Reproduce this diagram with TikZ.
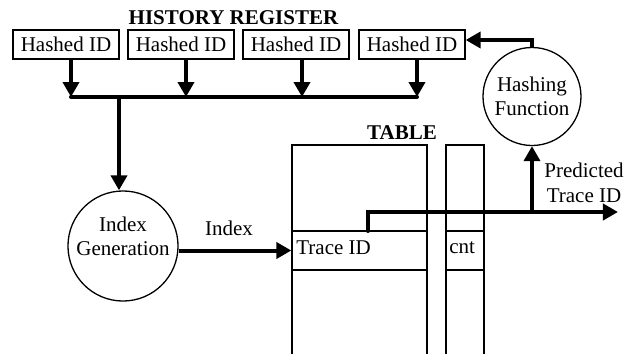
\documentclass[tikz,border=0pt]{standalone}
\usepackage{fontspec}
\setmainfont{Liberation Serif}
\usetikzlibrary{arrows.meta}
\begin{document}
\begin{tikzpicture}[x=0.5pt,y=-0.5pt,
  every node/.style={font=\fontsize{10.5}{12.5}\selectfont, inner sep=0pt},
  hbox/.style={draw, line width=0.65pt, minimum width=53pt, minimum height=14.5pt},
  proc/.style={draw, circle, line width=0.65pt, align=center},
  thin/.style={line width=0.65pt},
  bus/.style={line width=2pt},
  arr/.style={line width=2pt, -{Triangle[length=7.5pt,width=8pt]}},
  title/.style={font=\fontsize{10.5}{12.5}\selectfont\bfseries}]
\useasboundingbox (0,0) rectangle (634,354);
% history register
\node[title] (hr) at (233.5,18) {HISTORY REGISTER};
\node[hbox] (h1) at (66,44.5) {Hashed ID};
\node[hbox] (h2) at (181,44.5) {Hashed ID};
\node[hbox] (h3) at (296,44.5) {Hashed ID};
\node[hbox] (h4) at (412,44.5) {Hashed ID};
\coordinate (b1) at (71,97);
\coordinate (b2) at (186,97);
\coordinate (b3) at (302,97);
\coordinate (b4) at (417,97);
\coordinate (bg) at (119,97);
\draw[arr] (h1.south -| b1) -- (b1);
\draw[arr] (h2.south -| b2) -- (b2);
\draw[arr] (h3.south -| b3) -- (b3);
\draw[arr] (h4.south -| b4) -- (b4);
\draw[bus, line cap=round] (b1) -- (b4);
% index generation
\node[proc, minimum size=53pt] (ig) at (123,246) {Index\\[-0.5pt]Generation\\[-6pt]\strut};
\draw[arr] (bg) -- (bg |- ig.north);
% table
\node[title] (tt) at (402,133) {TABLE};
\draw[thin] (292,356) -- (292,145) -- (427,145) -- (427,356);
\draw[thin] (446,356) -- (446,145) -- (484,145) -- (484,356);
\node[draw, thin, minimum width=67.5pt, minimum height=19.5pt] (trow) at (359.5,250.5) {};
\node[draw, thin, minimum width=19pt, minimum height=19.5pt] (crow) at (465,250.5) {};
\node[anchor=west] (tid) at (296,248) {Trace ID};
\node[anchor=west] (cnt) at (449,248) {cnt};
\draw[arr] (ig.east |- trow.west) -- (trow.west);
\node (il) at (229,228) {Index};
% output
\coordinate (o1) at (368,231);
\coordinate (o2) at (368,212);
\coordinate (oe) at (618,212);
\coordinate (ob) at (532,212);
\draw[arr, line cap=round] (o1) -- (o2) -- (oe);
\node[proc, minimum size=49pt] (hf) at (532,96.5) {Hashing\\[-0.5pt]Function};
\draw[arr] (ob) -- (hf.south);
\coordinate (hk) at (532,40);
\draw[arr] (hf.north) -- (hk) -- (hk -| h4.east);
\node[align=center] (pl) at (584,183) {Predicted\\Trace ID};
\end{tikzpicture}
\end{document}
